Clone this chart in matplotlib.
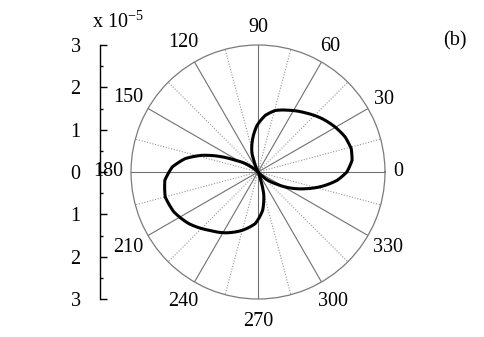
import numpy as np
import matplotlib
matplotlib.use("Agg")
import matplotlib.pyplot as plt
from matplotlib.path import Path
from matplotlib.patches import PathPatch

plt.rcParams['font.family'] = ['Liberation Serif', 'DejaVu Serif']
plt.rcParams['mathtext.fontset'] = 'custom'
plt.rcParams['mathtext.rm'] = 'Liberation Serif'
plt.rcParams['mathtext.default'] = 'regular'

# angle in degrees, radius in units of 1e-5
lobe1_theta = [-46, -42.4, -34, -27, -19.4, -12.6, -6, 0, 7.1, 14, 21.8, 30.2,
               39.8, 51.3, 63.5, 74.3, 82.6, 91.2, 99, 108, 114]
lobe1_r = [0, 0.23, 0.49, 0.82, 1.19, 1.55, 1.88, 2.10, 2.24, 2.27, 2.22, 2.11,
           1.97, 1.79, 1.63, 1.51, 1.35, 1.10, 0.80, 0.46, 0]
lobe2_theta = [138, 144, 152.7, 158.2, 163.4, 169.6, 176.7, 185.1, 195.1, 205.4,
               216.7, 229.8, 241.8, 254.7, 267, 277, 284.7, 288, 292]
lobe2_r = [0, 0.27, 0.60, 1.00, 1.38, 1.75, 2.03, 2.21, 2.27, 2.20,
           2.04, 1.80, 1.63, 1.43, 1.22, 0.91, 0.53, 0.25, 0]

angle_ticks = list(range(0, 360, 30))
left_ticks = [-3, -2, -1, 0, 1, 2, 3]
r_max = 3
fs = 14.5

fig = plt.figure(figsize=(4.85, 3.37), dpi=100)

# polar panel
ax = fig.add_axes([131 / 485, (337 - 299) / 337, 254 / 485, 254 / 337], projection='polar')
ax.set_ylim(0, r_max)
ax.set_yticks([])
ax.set_xticks([])
ax.grid(False)
ax.spines['polar'].set_color('#7a7a7a')
ax.spines['polar'].set_linewidth(0.9)

for a in range(0, 360, 15):
    t = np.deg2rad(a)
    if a % 30 == 0:
        ax.plot([t, t], [0, r_max], color='#707070', lw=0.8, zorder=1)
    else:
        ax.plot([t, t], [0, r_max], color='#959595', lw=0.8, ls=(0, (1, 1.5)), zorder=1)

# lobes drawn as paths so the polar transform bends them between readings
for th, rr in [(lobe1_theta, lobe1_r), (lobe2_theta, lobe2_r)]:
    verts = np.column_stack([np.deg2rad(th), rr])
    p = Path(verts, _interpolation_steps=40)
    ax.add_patch(PathPatch(p, fill=False, edgecolor='black', lw=2.2,
                           joinstyle='round', capstyle='round',
                           transform=ax.transData, zorder=3))

for a in angle_ticks:
    lbl = str(a)
    t = np.deg2rad(a)
    d = 8 + 5 * len(lbl)
    ax.annotate(lbl, xy=(t, r_max), xytext=(d * np.cos(t), d * np.sin(t)),
                textcoords='offset pixels', ha='center', va='center',
                fontsize=fs, annotation_clip=False)

# left scale
lax = fig.add_axes([100 / 485, (337 - 299) / 337, 0.02, 254 / 337])
lax.patch.set_alpha(0)
lax.set_ylim(-3, 3)
for s in ['top', 'right', 'bottom']:
    lax.spines[s].set_visible(False)
lax.spines['left'].set_linewidth(1.0)
lax.set_xticks([])
lax.set_yticks(left_ticks)
lax.set_yticklabels([str(abs(v)) for v in left_ticks])
lax.set_yticks(np.arange(-2.5, 3, 1), minor=True)
lax.tick_params(axis='y', which='major', direction='in', length=5, width=1,
                pad=14, labelsize=fs)
lax.tick_params(axis='y', which='minor', direction='in', length=2.5, width=1)

fig.text(92 / 485, 1 - 28 / 337, 'x 10$^{-5}$', fontsize=fs, ha='left', va='baseline')
fig.text(455 / 485, 1 - 41 / 337, '(b)', fontsize=fs, ha='center', va='center')

fig.savefig('out.png', dpi=100)
